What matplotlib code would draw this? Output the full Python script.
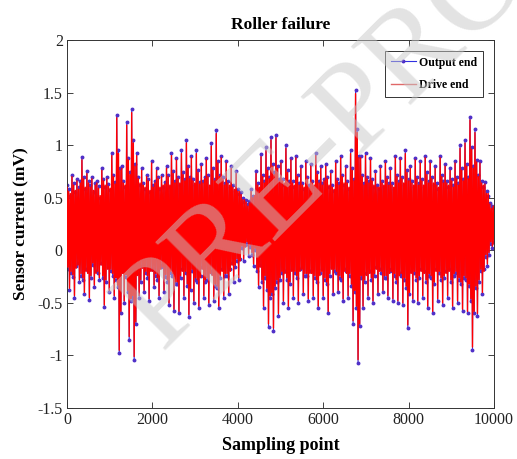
import numpy as np
import matplotlib
matplotlib.use("Agg")
import matplotlib.pyplot as plt

# Sensor current (mV). The trace is far too dense to
# read sample by sample, so each ~117-sample stretch is given as six values:
# its highest peak, a low, a high, its deepest trough, a high, a low.
output_end = [
    0.62, -0.18, 0.58, -0.38, 0.52, -0.22,   0.72, -0.25, 0.64, -0.45, 0.55, -0.15,
    0.68, -0.12, 0.60, -0.30, 0.66, -0.24,   0.89, -0.28, 0.70, -0.42, 0.58, -0.18,
    0.75, -0.20, 0.66, -0.47, 0.62, -0.26,   0.70, -0.14, 0.55, -0.35, 0.64, -0.20,
    0.66, -0.22, 0.61, -0.28, 0.50, -0.12,   0.78, -0.26, 0.68, -0.54, 0.60, -0.30,
    0.70, -0.16, 0.63, -0.40, 0.57, -0.20,   0.93, -0.24, 0.72, -0.45, 0.65, -0.28,
    1.29, -0.35, 0.95, -0.98, 0.78, -0.60,   0.80, -0.20, 0.66, -0.50, 0.60, -0.25,
    1.22, -0.40, 0.88, -0.85, 0.74, -0.48,   1.34, -0.45, 1.05, -1.04, 0.82, -0.70,
    0.93, -0.22, 0.70, -0.45, 0.62, -0.30,   0.78, -0.15, 0.64, -0.40, 0.58, -0.22,
    0.72, -0.26, 0.68, -0.48, 0.55, -0.18,   0.85, -0.18, 0.62, -0.35, 0.66, -0.24,
    0.78, -0.28, 0.70, -0.45, 0.58, -0.16,   0.72, -0.14, 0.60, -0.40, 0.65, -0.25,
    0.80, -0.30, 0.72, -0.52, 0.60, -0.22,   0.93, -0.24, 0.75, -0.58, 0.66, -0.32,
    0.88, -0.32, 0.70, -0.60, 0.62, -0.26,   0.95, -0.18, 0.74, -0.45, 0.68, -0.22,
    1.05, -0.34, 0.80, -0.63, 0.70, -0.38,   0.90, -0.20, 0.68, -0.50, 0.62, -0.28,
    0.95, -0.30, 0.76, -0.55, 0.65, -0.24,   0.82, -0.16, 0.66, -0.45, 0.70, -0.30,
    0.88, -0.28, 0.72, -0.52, 0.60, -0.20,   1.02, -0.22, 0.78, -0.48, 0.68, -0.34,
    1.14, -0.36, 0.85, -0.55, 0.72, -0.26,   0.90, -0.18, 0.70, -0.45, 0.64, -0.24,
    0.85, -0.24, 0.66, -0.42, 0.60, -0.18,   0.80, -0.12, 0.62, -0.30, 0.56, -0.16,
    0.75, -0.10, 0.58, -0.28, 0.54, -0.08,   0.55, 0.02, 0.50, -0.10, 0.46, 0.05,
    0.48, 0.06, 0.44, -0.05, 0.47, 0.03,     0.58, -0.04, 0.52, -0.15, 0.50, 0.00,
    0.75, -0.20, 0.64, -0.35, 0.58, -0.14,   0.92, -0.30, 0.72, -0.55, 0.66, -0.26,
    0.98, -0.38, 0.78, -0.73, 0.70, -0.45,   1.08, -0.42, 0.82, -0.77, 0.74, -0.36,
    1.10, -0.30, 0.80, -0.62, 0.68, -0.28,   0.85, -0.22, 0.68, -0.50, 0.62, -0.20,
    1.00, -0.28, 0.76, -0.55, 0.66, -0.32,   0.88, -0.18, 0.66, -0.45, 0.60, -0.22,
    0.90, -0.26, 0.72, -0.50, 0.64, -0.18,   0.80, -0.16, 0.64, -0.42, 0.58, -0.24,
    0.85, -0.24, 0.70, -0.48, 0.62, -0.20,   0.82, -0.20, 0.66, -0.45, 0.60, -0.26,
    0.93, -0.30, 0.74, -0.55, 0.66, -0.22,   0.80, -0.18, 0.64, -0.45, 0.68, -0.28,
    0.82, -0.32, 0.70, -0.60, 0.60, -0.24,   0.75, -0.16, 0.62, -0.42, 0.56, -0.20,
    0.85, -0.22, 0.68, -0.40, 0.64, -0.26,   0.90, -0.28, 0.72, -0.48, 0.62, -0.18,
    0.80, -0.20, 0.66, -0.45, 0.58, -0.24,   0.95, -0.34, 0.78, -0.70, 0.68, -0.40,
    1.52, -0.55, 1.15, -1.07, 0.90, -0.72,   0.90, -0.26, 0.72, -0.55, 0.64, -0.30,
    0.93, -0.22, 0.70, -0.45, 0.66, -0.20,   0.88, -0.28, 0.68, -0.50, 0.60, -0.24,
    0.75, -0.16, 0.62, -0.42, 0.58, -0.18,   0.80, -0.22, 0.66, -0.40, 0.60, -0.26,
    0.85, -0.26, 0.70, -0.45, 0.64, -0.20,   0.78, -0.18, 0.64, -0.48, 0.58, -0.24,
    0.90, -0.30, 0.72, -0.50, 0.66, -0.22,   0.88, -0.24, 0.70, -0.52, 0.62, -0.28,
    0.95, -0.36, 0.76, -0.74, 0.68, -0.42,   0.80, -0.20, 0.66, -0.48, 0.60, -0.22,
    0.88, -0.28, 0.70, -0.50, 0.64, -0.26,   0.85, -0.18, 0.68, -0.45, 0.60, -0.20,
    0.90, -0.30, 0.74, -0.55, 0.66, -0.24,   0.85, -0.26, 0.70, -0.60, 0.62, -0.32,
    0.80, -0.18, 0.64, -0.48, 0.58, -0.22,   0.90, -0.28, 0.72, -0.52, 0.66, -0.26,
    0.82, -0.20, 0.66, -0.45, 0.60, -0.18,   0.78, -0.30, 0.68, -0.55, 0.62, -0.24,
    0.85, -0.22, 0.70, -0.50, 0.64, -0.28,   1.00, -0.32, 0.78, -0.58, 0.68, -0.26,
    1.05, -0.28, 0.82, -0.60, 0.70, -0.34,   1.27, -0.48, 0.98, -0.95, 0.80, -0.60,
    1.15, -0.36, 0.86, -0.62, 0.72, -0.30,   0.85, -0.20, 0.66, -0.42, 0.60, -0.18,
    0.65, -0.06, 0.56, -0.15, 0.52, -0.04,   0.45, 0.06, 0.42, 0.02, 0.40, 0.08,
]

drive_end = [
    0.60, -0.16, 0.56, -0.36, 0.54, -0.20,   0.70, -0.23, 0.62, -0.43, 0.57, -0.17,
    0.66, -0.14, 0.58, -0.28, 0.64, -0.22,   0.86, -0.26, 0.68, -0.40, 0.60, -0.20,
    0.73, -0.22, 0.64, -0.45, 0.60, -0.24,   0.68, -0.12, 0.57, -0.33, 0.62, -0.22,
    0.64, -0.20, 0.59, -0.26, 0.52, -0.14,   0.76, -0.24, 0.66, -0.52, 0.62, -0.28,
    0.68, -0.18, 0.61, -0.38, 0.59, -0.18,   0.90, -0.22, 0.70, -0.43, 0.63, -0.26,
    1.26, -0.33, 0.92, -0.95, 0.76, -0.58,   0.78, -0.22, 0.64, -0.48, 0.62, -0.23,
    1.19, -0.38, 0.86, -0.82, 0.72, -0.46,   1.31, -0.43, 1.02, -1.01, 0.80, -0.68,
    0.90, -0.24, 0.68, -0.43, 0.64, -0.28,   0.76, -0.17, 0.62, -0.38, 0.60, -0.20,
    0.70, -0.24, 0.66, -0.46, 0.57, -0.20,   0.83, -0.20, 0.60, -0.33, 0.64, -0.22,
    0.76, -0.26, 0.68, -0.43, 0.60, -0.18,   0.70, -0.16, 0.62, -0.38, 0.63, -0.23,
    0.78, -0.28, 0.70, -0.50, 0.62, -0.20,   0.90, -0.22, 0.73, -0.56, 0.64, -0.30,
    0.86, -0.30, 0.68, -0.58, 0.64, -0.24,   0.92, -0.20, 0.72, -0.43, 0.66, -0.20,
    1.02, -0.32, 0.78, -0.61, 0.68, -0.36,   0.88, -0.18, 0.66, -0.48, 0.64, -0.26,
    0.92, -0.28, 0.74, -0.53, 0.63, -0.26,   0.80, -0.18, 0.64, -0.43, 0.68, -0.28,
    0.86, -0.26, 0.70, -0.50, 0.62, -0.22,   0.99, -0.24, 0.76, -0.46, 0.66, -0.32,
    1.11, -0.34, 0.83, -0.53, 0.70, -0.24,   0.88, -0.20, 0.68, -0.43, 0.62, -0.22,
    0.83, -0.22, 0.64, -0.40, 0.62, -0.20,   0.78, -0.14, 0.60, -0.28, 0.58, -0.14,
    0.73, -0.08, 0.56, -0.26, 0.56, -0.10,   0.53, 0.04, 0.48, -0.08, 0.48, 0.03,
    0.46, 0.08, 0.42, -0.03, 0.45, 0.05,     0.56, -0.02, 0.50, -0.13, 0.52, 0.02,
    0.73, -0.18, 0.62, -0.33, 0.60, -0.16,   0.89, -0.28, 0.70, -0.53, 0.64, -0.24,
    0.95, -0.36, 0.76, -0.70, 0.68, -0.43,   1.05, -0.40, 0.80, -0.74, 0.72, -0.34,
    1.07, -0.28, 0.78, -0.60, 0.66, -0.26,   0.83, -0.20, 0.66, -0.48, 0.64, -0.22,
    0.97, -0.26, 0.74, -0.53, 0.64, -0.30,   0.86, -0.20, 0.64, -0.43, 0.62, -0.20,
    0.88, -0.24, 0.70, -0.48, 0.62, -0.20,   0.78, -0.18, 0.62, -0.40, 0.60, -0.22,
    0.83, -0.22, 0.68, -0.46, 0.60, -0.22,   0.80, -0.22, 0.64, -0.43, 0.62, -0.24,
    0.90, -0.28, 0.72, -0.53, 0.64, -0.24,   0.78, -0.20, 0.62, -0.43, 0.66, -0.26,
    0.80, -0.30, 0.68, -0.58, 0.62, -0.22,   0.73, -0.18, 0.60, -0.40, 0.58, -0.18,
    0.83, -0.20, 0.66, -0.38, 0.62, -0.24,   0.88, -0.26, 0.70, -0.46, 0.64, -0.20,
    0.78, -0.22, 0.64, -0.43, 0.60, -0.22,   0.92, -0.32, 0.76, -0.67, 0.66, -0.38,
    1.49, -0.53, 1.12, -1.04, 0.88, -0.70,   0.88, -0.24, 0.70, -0.53, 0.62, -0.28,
    0.90, -0.24, 0.68, -0.43, 0.64, -0.22,   0.86, -0.26, 0.66, -0.48, 0.62, -0.22,
    0.73, -0.18, 0.60, -0.40, 0.60, -0.20,   0.78, -0.20, 0.64, -0.38, 0.62, -0.24,
    0.83, -0.24, 0.68, -0.43, 0.62, -0.22,   0.76, -0.20, 0.62, -0.46, 0.60, -0.22,
    0.88, -0.28, 0.70, -0.48, 0.64, -0.24,   0.86, -0.22, 0.68, -0.50, 0.64, -0.26,
    0.92, -0.34, 0.74, -0.71, 0.66, -0.40,   0.78, -0.22, 0.64, -0.46, 0.62, -0.20,
    0.86, -0.26, 0.68, -0.48, 0.62, -0.24,   0.83, -0.20, 0.66, -0.43, 0.62, -0.22,
    0.88, -0.28, 0.72, -0.53, 0.64, -0.22,   0.83, -0.24, 0.68, -0.58, 0.64, -0.30,
    0.78, -0.20, 0.62, -0.46, 0.60, -0.20,   0.88, -0.26, 0.70, -0.50, 0.64, -0.24,
    0.80, -0.22, 0.64, -0.43, 0.62, -0.20,   0.76, -0.28, 0.66, -0.53, 0.60, -0.22,
    0.83, -0.20, 0.68, -0.48, 0.62, -0.26,   0.97, -0.30, 0.76, -0.56, 0.66, -0.24,
    1.02, -0.26, 0.80, -0.58, 0.68, -0.32,   1.24, -0.46, 0.96, -0.92, 0.78, -0.58,
    1.12, -0.34, 0.84, -0.60, 0.70, -0.28,   0.83, -0.18, 0.64, -0.40, 0.62, -0.20,
    0.63, -0.04, 0.54, -0.13, 0.54, -0.02,   0.44, 0.08, 0.40, 0.04, 0.42, 0.06,
]

x_ticks = [0, 2000, 4000, 6000, 8000, 10000]
y_ticks = [-1.5, -1, -0.5, 0, 0.5, 1, 1.5, 2]
y_tick_labels = ['-1.5', '-1', '-0.5', '0', '0.5', '1', '1.5', '2']

plt.rcParams['font.family'] = ['Liberation Serif', 'DejaVu Serif']

fig = plt.figure(figsize=(5.17, 4.59), dpi=100)
ax = fig.add_axes([0.1296, 0.111, 0.826, 0.8019])

# sample positions spread evenly over the 10000 sampling points
xs_out = np.linspace(0, 10000, len(output_end))
xs_drv = np.linspace(0, 10000, len(drive_end))

ax.plot(xs_out, output_end, color='#3030e0', lw=0.8, marker='.', markersize=3.6,
        mfc='#5030c8', mec='#5030c8', label='Output end', zorder=2)
ax.plot(xs_drv, drive_end, color='#ff0000', lw=1.0, label='Drive end', zorder=3)

ax.set_xlim(0, 10000)
ax.set_ylim(-1.5, 2)
ax.set_xticks(x_ticks)
ax.set_xticklabels([str(t) for t in x_ticks])
ax.set_yticks(y_ticks)
ax.set_yticklabels(y_tick_labels)
ax.tick_params(direction='in', top=True, right=True, length=4, width=0.6,
               labelsize=11.5, pad=3, colors='#222222')
for s in ax.spines.values():
    s.set_linewidth(0.7)
    s.set_color('#333333')

ax.set_title('Roller failure', fontsize=12.5, fontweight='bold', pad=8)
ax.set_xlabel('Sampling point', fontsize=13, fontweight='bold', labelpad=6)
ax.set_ylabel('Sensor current (mV)', fontsize=12.5, fontweight='bold', labelpad=6)

leg = ax.legend(loc='upper right', prop={'weight': 'bold', 'size': 8.5},
                fancybox=False, edgecolor='#333333', framealpha=1,
                handlelength=2.1, handletextpad=0.3, labelspacing=0.9,
                borderpad=0.5, borderaxespad=0.9)
leg.get_frame().set_linewidth(0.7)
leg.get_lines()[1].set_color('#e06868')

# journal "pre-proof" watermark lying over the plot (runs off the top edge)
fig.text(0.313, 0.234, 'PRE-PROOF', fontsize=92, color='#c8c8c8', alpha=0.5,
         rotation=45, ha='left', va='baseline', rotation_mode='anchor',
         zorder=10)

fig.savefig('out.png', dpi=100)
